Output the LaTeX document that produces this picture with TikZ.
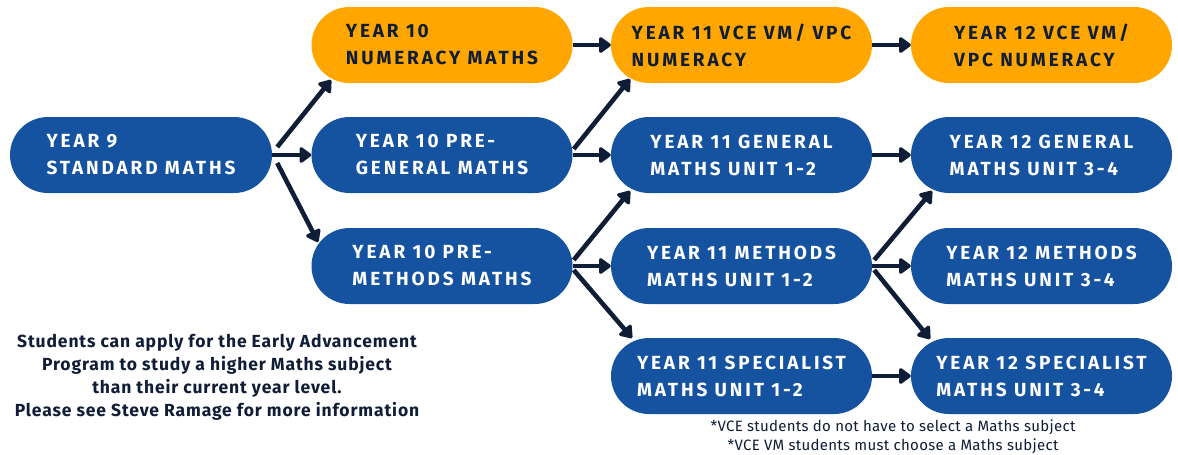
\documentclass[tikz,border=0pt]{standalone}
\usepackage{fontspec}
\setmainfont{Fira Sans}
\newfontfamily\boxfont[LetterSpace=15]{Fira Sans}
\newfontfamily\notefont[LetterSpace=5]{Fira Sans}
\newfontfamily\footfont[LetterSpace=2]{Fira Sans}
\usetikzlibrary{arrows.meta,shapes.misc}
\definecolor{boxblue}{HTML}{1553A1}
\definecolor{boxorange}{HTML}{FFA600}
\definecolor{navy}{HTML}{0F1D36}
\tikzset{
  box/.style={rounded rectangle, minimum width=261pt, minimum height=76pt, inner sep=0pt,
    align=left, fill=boxblue, text=white,
    font=\boxfont\bfseries\fontsize{19}{27}\selectfont},
  obox/.style={box, fill=boxorange, text=navy},
  arr/.style={draw=navy, line width=4.6pt, -{Triangle[length=13pt,width=18pt,round]}},
  note/.style={align=center, text=navy}
}
\begin{document}
\begin{tikzpicture}[x=1pt,y=-1pt]
\useasboundingbox (0,0) rectangle (1178,455);
\fill[white] (0,0) rectangle (1178,455);
\node[box, minimum width=262pt] (y9) at (141,155) {YEAR 9\\STANDARD MATHS};
\node[obox] (n10) at (442,45) {YEAR 10\\NUMERACY MATHS};
\node[box] (g10) at (442,155) {YEAR 10 PRE-\\GENERAL MATHS};
\node[box] (m10) at (442,266) {YEAR 10 PRE-\\METHODS MATHS};
\node[obox] (v11) at (741.5,45) {YEAR 11 VCE VM/ VPC\\NUMERACY};
\node[box] (g11) at (741.5,155) {YEAR 11 GENERAL\\MATHS UNIT 1-2};
\node[box] (m11) at (741.5,266) {YEAR 11 METHODS\\MATHS UNIT 1-2};
\node[box] (s11) at (741.5,376) {YEAR 11 SPECIALIST\\MATHS UNIT 1-2};
\node[obox] (v12) at (1041.5,45) {YEAR 12 VCE VM/\\VPC NUMERACY};
\node[box] (g12) at (1041.5,155) {YEAR 12 GENERAL\\MATHS UNIT 3-4};
\node[box] (m12) at (1041.5,266) {YEAR 12 METHODS\\MATHS UNIT 3-4};
\node[box] (s12) at (1041.5,376) {YEAR 12 SPECIALIST\\MATHS UNIT 3-4};
% arrows from year 9
\draw[arr] ([shift={(5,-8)}]y9.east) -- ([shift={(-111,35)}]n10.center);
\draw[arr] (y9.east) -- (g10.west);
\draw[arr] ([shift={(5,8)}]y9.east) -- ([shift={(-124,-24)}]m10.center);
% arrows from year 10
\draw[arr] (n10.east) -- (v11.west);
\draw[arr] ([shift={(1,-6)}]g10.east) -- ([shift={(-111.5,34)}]v11.center);
\draw[arr] (g10.east) -- (g11.west);
\draw[arr] ([shift={(1,-6)}]m10.east) -- ([shift={(-111.5,36)}]g11.center);
\draw[arr] (m10.east) -- (m11.west);
\draw[arr] ([shift={(1,4)}]m10.east) -- ([shift={(-109.5,-38)}]s11.center);
% arrows from year 11
\draw[arr] (v11.east) -- (v12.west);
\draw[arr] (g11.east) -- (g12.west);
\draw[arr] ([shift={(2,-6)}]m11.east) -- ([shift={(-109.5,36)}]g12.center);
\draw[arr] (m11.east) -- (m12.west);
\draw[arr] ([shift={(2,4)}]m11.east) -- ([shift={(-111.5,-37)}]s12.center);
\draw[arr] (s11.east) -- (s12.west);
% notes
\node[note, font=\notefont\bfseries\fontsize{17.5}{23}\selectfont] (adv) at (217,377)
  {Students can apply for the Early Advancement\\Program to study a higher Maths subject\\than their current year level.\\Please see Steve Ramage for more information};
\node[note, font=\footfont\fontsize{15}{19}\selectfont] (foot) at (893,437)
  {*VCE students do not have to select a Maths subject\\*VCE VM students must choose a Maths subject};
\end{tikzpicture}
\end{document}
